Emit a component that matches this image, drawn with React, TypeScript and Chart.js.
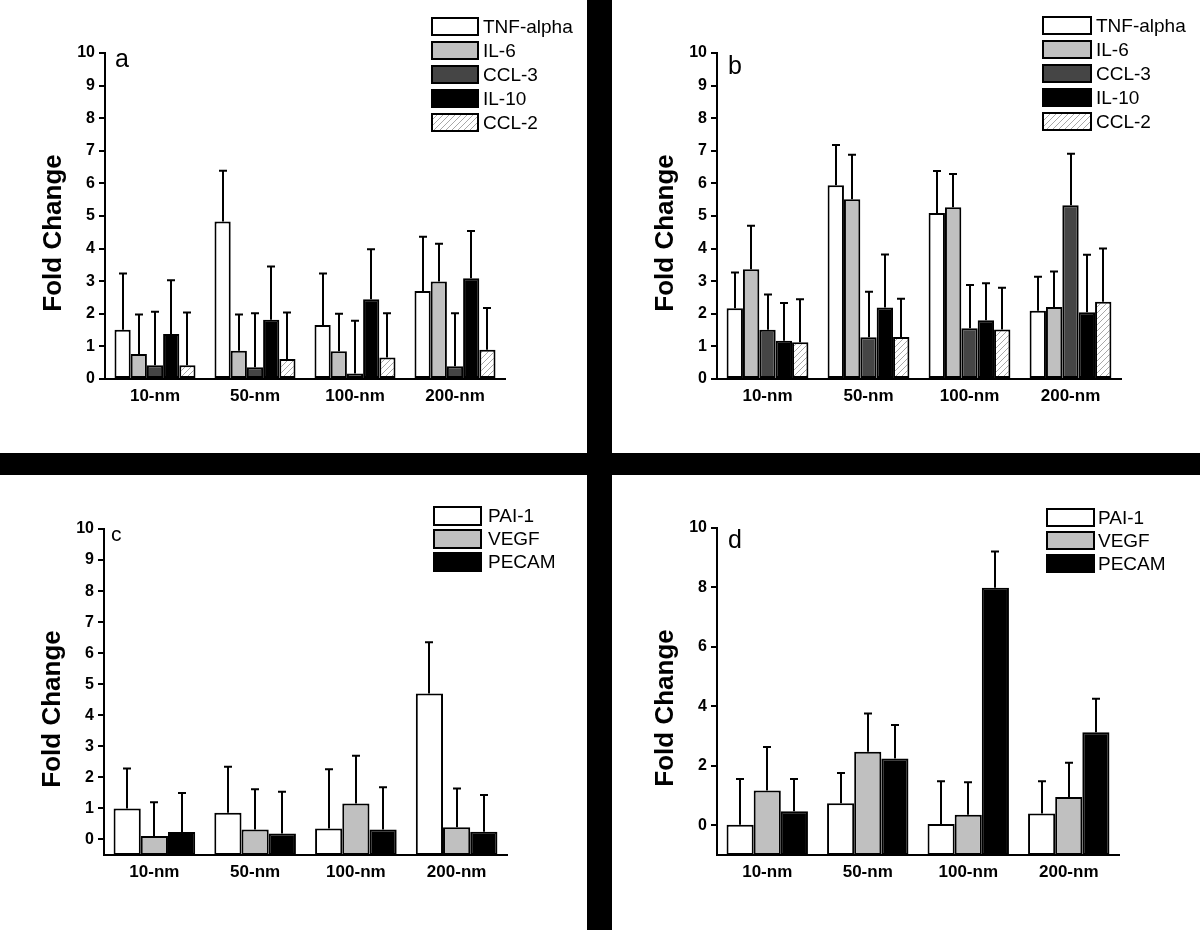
import React, { useEffect, useRef } from 'react';
import { Chart, registerables } from 'chart.js';

Chart.register(...registerables);

const FONT = '"Liberation Sans", Arial, Helvetica, sans-serif';

// ---------- data ----------
const categories = ['10-nm', '50-nm', '100-nm', '200-nm'];

// panel a : means and SD (upper error length)
const aTNF = [1.51, 4.83, 1.66, 2.7];
const aTNFsd = [1.73, 1.56, 1.58, 1.66];
const aIL6 = [0.77, 0.87, 0.85, 2.99];
const aIL6sd = [1.21, 1.11, 1.15, 1.16];
const aCCL3 = [0.42, 0.36, 0.17, 0.39];
const aCCL3sd = [1.64, 1.66, 1.62, 1.63];
const aIL10 = [1.38, 1.82, 2.45, 3.09];
const aIL10sd = [1.65, 1.63, 1.53, 1.45];
const aCCL2 = [0.42, 0.61, 0.66, 0.9];
const aCCL2sd = [1.62, 1.43, 1.36, 1.28];

// panel b
const bTNF = [2.17, 5.94, 5.09, 2.09];
const bTNFsd = [1.1, 1.24, 1.29, 1.05];
const bIL6 = [3.37, 5.51, 5.27, 2.21];
const bIL6sd = [1.33, 1.37, 1.02, 1.09];
const bCCL3 = [1.51, 1.28, 1.56, 5.33];
const bCCL3sd = [1.08, 1.4, 1.32, 1.58];
const bIL10 = [1.17, 2.19, 1.8, 2.05];
const bIL10sd = [1.16, 1.63, 1.14, 1.76];
const bCCL2 = [1.13, 1.29, 1.52, 2.37];
const bCCL2sd = [1.32, 1.17, 1.28, 1.63];

// panel c
const cPAI = [1.0, 0.86, 0.35, 4.7];
const cPAIsd = [1.29, 1.48, 1.91, 1.65];
const cVEGF = [0.11, 0.32, 1.16, 0.39];
const cVEGFsd = [1.09, 1.3, 1.54, 1.25];
const cPECAM = [0.24, 0.19, 0.32, 0.25];
const cPECAMsd = [1.26, 1.35, 1.36, 1.18];

// panel d
const dPAI = [0.02, 0.74, 0.04, 0.4];
const dPAIsd = [1.54, 1.02, 1.44, 1.08];
const dVEGF = [1.17, 2.47, 0.35, 0.95];
const dVEGFsd = [1.46, 1.29, 1.1, 1.15];
const dPECAM = [0.47, 2.25, 7.99, 3.13];
const dPECAMsd = [1.09, 1.12, 1.22, 1.13];

const ticksAC = [0, 1, 2, 3, 4, 5, 6, 7, 8, 9, 10];
const ticksD = [0, 2, 4, 6, 8, 10];

const cytokineLabels = ['TNF-alpha', 'IL-6', 'CCL-3', 'IL-10', 'CCL-2'];
const angioLabels = ['PAI-1', 'VEGF', 'PECAM'];

// ---------- styles ----------
const WHITE = '#ffffff';
const LIGHT = '#c0c0c0';
const DARK = '#454545';
const BLACK = '#000000';
const HATCH = 'hatch';

type Series = { label: string; values: number[]; sd: number[]; fill: string };

type PanelCfg = {
  letter: string;
  series: Series[];
  yMin: number;
  yMax: number;
  yTicks: number[];
  x: number;
  y: number;
  w: number;
  h: number;
  area: { l: number; r: number; t: number; b: number };
  legend: { x: number; top: number; pitch: number; bw: number; bh: number; tx: number };
  letterPos: { x: number; y: number; size: number };
};

const panels: PanelCfg[] = [
  {
    letter: 'a',
    series: [
      { label: cytokineLabels[0], values: aTNF, sd: aTNFsd, fill: WHITE },
      { label: cytokineLabels[1], values: aIL6, sd: aIL6sd, fill: LIGHT },
      { label: cytokineLabels[2], values: aCCL3, sd: aCCL3sd, fill: DARK },
      { label: cytokineLabels[3], values: aIL10, sd: aIL10sd, fill: BLACK },
      { label: cytokineLabels[4], values: aCCL2, sd: aCCL2sd, fill: HATCH },
    ],
    yMin: 0,
    yMax: 10,
    yTicks: ticksAC,
    x: 0, y: 0, w: 587, h: 453,
    area: { l: 105, r: 505, t: 53, b: 379 },
    legend: { x: 432, top: 18, pitch: 24, bw: 46, bh: 17, tx: 483 },
    letterPos: { x: 115, y: 67, size: 25 },
  },
  {
    letter: 'b',
    series: [
      { label: cytokineLabels[0], values: bTNF, sd: bTNFsd, fill: WHITE },
      { label: cytokineLabels[1], values: bIL6, sd: bIL6sd, fill: LIGHT },
      { label: cytokineLabels[2], values: bCCL3, sd: bCCL3sd, fill: DARK },
      { label: cytokineLabels[3], values: bIL10, sd: bIL10sd, fill: BLACK },
      { label: cytokineLabels[4], values: bCCL2, sd: bCCL2sd, fill: HATCH },
    ],
    yMin: 0,
    yMax: 10,
    yTicks: ticksAC,
    x: 612, y: 0, w: 588, h: 453,
    area: { l: 105, r: 509, t: 53, b: 379 },
    legend: { x: 431, top: 17, pitch: 24, bw: 48, bh: 17, tx: 484 },
    letterPos: { x: 116, y: 74, size: 25 },
  },
  {
    letter: 'c',
    series: [
      { label: angioLabels[0], values: cPAI, sd: cPAIsd, fill: WHITE },
      { label: angioLabels[1], values: cVEGF, sd: cVEGFsd, fill: LIGHT },
      { label: angioLabels[2], values: cPECAM, sd: cPECAMsd, fill: BLACK },
    ],
    yMin: -0.5,
    yMax: 10,
    yTicks: ticksAC,
    x: 0, y: 475, w: 587, h: 455,
    area: { l: 104, r: 507, t: 54, b: 380 },
    legend: { x: 434, top: 32, pitch: 23, bw: 47, bh: 18, tx: 488 },
    letterPos: { x: 111, y: 66, size: 21 },
  },
  {
    letter: 'd',
    series: [
      { label: angioLabels[0], values: dPAI, sd: dPAIsd, fill: WHITE },
      { label: angioLabels[1], values: dVEGF, sd: dVEGFsd, fill: LIGHT },
      { label: angioLabels[2], values: dPECAM, sd: dPECAMsd, fill: BLACK },
    ],
    yMin: -1,
    yMax: 10,
    yTicks: ticksD,
    x: 612, y: 475, w: 588, h: 455,
    area: { l: 105, r: 507, t: 53, b: 380 },
    legend: { x: 435, top: 34, pitch: 23, bw: 47, bh: 17, tx: 486 },
    letterPos: { x: 116, y: 73, size: 25 },
  },
];

function makeHatch(): CanvasPattern | string {
  const c = document.createElement('canvas');
  c.width = 6;
  c.height = 6;
  const g = c.getContext('2d');
  if (!g) return '#eeeeee';
  g.fillStyle = '#ffffff';
  g.fillRect(0, 0, 6, 6);
  g.strokeStyle = '#a8a8a8';
  g.lineWidth = 1;
  g.beginPath();
  g.moveTo(0, 6);
  g.lineTo(6, 0);
  g.moveTo(-1, 1);
  g.lineTo(1, -1);
  g.moveTo(5, 7);
  g.lineTo(7, 5);
  g.stroke();
  return g.createPattern(c, 'repeat') || '#eeeeee';
}

function Panel({ cfg }: { cfg: PanelCfg }) {
  const ref = useRef<HTMLCanvasElement>(null);

  useEffect(() => {
    const canvas = ref.current;
    if (!canvas) return;
    const hatch = makeHatch();
    const fills = cfg.series.map((s) => (s.fill === HATCH ? hatch : s.fill));

    const datasets = cfg.series.map((s, i) => ({
      label: s.label,
      data: s.values,
      backgroundColor: fills[i],
      borderColor: '#000',
      borderWidth: 2,
      borderSkipped: false,
      base: cfg.yMin,
      categoryPercentage: 0.81,
      barPercentage: 1,
    }));

    const errorPlugin = {
      id: 'errorBars',
      afterDatasetsDraw(chart: any) {
        const ctx = chart.ctx;
        const ys = chart.scales.y;
        ctx.save();
        ctx.strokeStyle = '#000';
        ctx.lineWidth = 2;
        cfg.series.forEach((s, i) => {
          const meta = chart.getDatasetMeta(i);
          meta.data.forEach((el: any, j: number) => {
            const x = Math.round(el.x);
            const y0 = ys.getPixelForValue(s.values[j]);
            const y1 = ys.getPixelForValue(s.values[j] + s.sd[j]);
            ctx.beginPath();
            ctx.moveTo(x, y0);
            ctx.lineTo(x, y1);
            ctx.moveTo(x - 4, y1);
            ctx.lineTo(x + 4, y1);
            ctx.stroke();
          });
        });
        ctx.restore();
      },
    };

    const decoPlugin = {
      id: 'deco',
      afterDraw(chart: any) {
        const ctx = chart.ctx;
        const area = chart.chartArea;
        ctx.save();
        // legend
        const L = cfg.legend;
        cfg.series.forEach((s, i) => {
          const top = L.top + i * L.pitch;
          ctx.fillStyle = fills[i];
          ctx.fillRect(L.x, top, L.bw, L.bh);
          ctx.strokeStyle = '#000';
          ctx.lineWidth = 2;
          ctx.strokeRect(L.x, top, L.bw, L.bh);
          ctx.fillStyle = '#000';
          ctx.font = `19px ${FONT}`;
          ctx.textAlign = 'left';
          ctx.textBaseline = 'middle';
          ctx.fillText(s.label, L.tx, top + L.bh / 2 + 1);
        });
        // panel letter
        ctx.fillStyle = '#000';
        ctx.font = `${cfg.letterPos.size}px ${FONT}`;
        ctx.textAlign = 'left';
        ctx.textBaseline = 'alphabetic';
        ctx.fillText(cfg.letter, cfg.letterPos.x, cfg.letterPos.y);
        // y title
        ctx.translate(area.left - 51, area.top + 180);
        ctx.rotate(-Math.PI / 2);
        ctx.font = `bold 26px ${FONT}`;
        ctx.textAlign = 'center';
        ctx.textBaseline = 'middle';
        ctx.fillText('Fold Change', 0, 0);
        ctx.restore();
      },
    };

    const chart = new Chart(canvas, {
      type: 'bar',
      data: { labels: categories, datasets: datasets as any },
      options: {
        animation: false,
        responsive: false,
        maintainAspectRatio: false,
        layout: {
          padding: { left: 0, top: cfg.area.t, right: cfg.w - cfg.area.r, bottom: 0 },
        },
        plugins: {
          legend: { display: false },
          tooltip: { enabled: false },
          title: { display: false },
        },
        scales: {
          x: {
            afterFit: (s: any) => {
              s.height = cfg.h - cfg.area.b;
            },
            grid: { display: false, drawTicks: false },
            border: { display: true, color: '#000', width: 2 },
            ticks: {
              color: '#000',
              padding: 7,
              font: { family: FONT, size: 17, weight: 'bold' },
            },
          },
          y: {
            min: cfg.yMin,
            max: cfg.yMax,
            afterBuildTicks: (s: any) => {
              s.ticks = cfg.yTicks.map((v) => ({ value: v }));
            },
            afterFit: (s: any) => {
              s.width = cfg.area.l;
            },
            grid: {
              drawOnChartArea: false,
              drawTicks: true,
              tickLength: 6,
              color: '#000',
              lineWidth: 2,
            },
            border: { display: true, color: '#000', width: 2 },
            ticks: {
              color: '#000',
              padding: 4,
              font: { family: FONT, size: 16, weight: 'bold' },
            },
          },
        },
      } as any,
      plugins: [errorPlugin, decoPlugin],
    });

    return () => {
      chart.destroy();
    };
  }, [cfg]);

  return (
    <canvas
      ref={ref}
      width={cfg.w}
      height={cfg.h}
      style={{
        position: 'absolute',
        left: cfg.x,
        top: cfg.y,
        width: cfg.w,
        height: cfg.h,
        background: '#ffffff',
      }}
    />
  );
}

export default function App() {
  return (
    <div
      style={{
        position: 'absolute',
        left: 0,
        top: 0,
        width: 1200,
        height: 930,
        background: '#000000',
        overflow: 'hidden',
      }}
    >
      {panels.map((p) => (
        <Panel key={p.letter} cfg={p} />
      ))}
    </div>
  );
}
